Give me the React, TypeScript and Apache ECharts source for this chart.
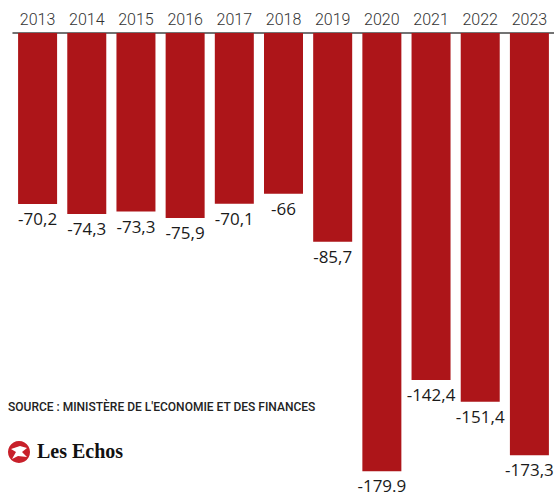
import React, { useEffect, useRef } from "react";
import * as echarts from "echarts";

const years = ["2013", "2014", "2015", "2016", "2017", "2018", "2019", "2020", "2021", "2022", "2023"];
const deficits = [-70.2, -74.3, -73.3, -75.9, -70.1, -66, -85.7, -179.9, -142.4, -151.4, -173.3];
// value labels as printed in the source (note 2020 uses a point)
const valueLabels = ["-70,2", "-74,3", "-73,3", "-75,9", "-70,1", "-66", "-85,7", "-179.9", "-142,4", "-151,4", "-173,3"];
const sourceText = "SOURCE : MINISTÈRE DE L'ECONOMIE ET DES FINANCES";
const brandText = "Les Echos";

export default function App() {
  const ref = useRef<HTMLDivElement>(null);
  useEffect(() => {
    if (!ref.current) return;
    const chart = echarts.init(ref.current, null, { renderer: "svg" });
    chart.setOption({
      animation: false,
      backgroundColor: "#ffffff",
      grid: { left: 13, right: -1, top: 33, bottom: 21.5, containLabel: false },
      xAxis: {
        type: "category",
        data: years,
        position: "top",
        axisLine: { show: true, lineStyle: { color: "#444", width: 1.5 } },
        axisTick: { show: false },
        axisLabel: { color: "#333", fontSize: 16, fontFamily: "Roboto", fontWeight: 300, margin: 6 },
      },
      yAxis: {
        type: "value",
        min: -180,
        max: 0,
        show: false,
        splitLine: { show: false },
      },
      series: [
        {
          type: "bar",
          data: deficits,
          barWidth: 39,
          itemStyle: { color: "#ad1519" },
          label: {
            show: true,
            position: "bottom",
            distance: 6,
            color: "#1a1a1a",
            fontSize: 17,
            fontFamily: "Open Sans",
            formatter: (p: any) => valueLabels[p.dataIndex],
          },
        },
      ],
      graphic: [
        {
          type: "text",
          left: 8,
          top: 401,
          style: { text: sourceText, fontSize: 12, fontFamily: "Roboto", fontWeight: 500, fill: "#222" },
        },
        {
          type: "circle",
          shape: { cx: 19, cy: 452, r: 11 },
          style: { fill: "#c8202a" },
        },
        {
          type: "polygon",
          shape: { points: [[11, 449], [20, 446], [27, 448], [22, 452], [27, 457], [18, 456], [12, 459], [16, 452]] },
          style: { fill: "#ffffff" },
        },
        {
          type: "text",
          left: 37,
          top: 441,
          style: { text: brandText, fontSize: 20, fontFamily: "Liberation Serif", fontWeight: "bold", fill: "#111", letterSpacing: -0.8 },
        },
      ],
    });
    return () => chart.dispose();
  }, []);
  return <div ref={ref} style={{ position: "fixed", left: 0, top: 0, width: 554, height: 493 }} />;
}
